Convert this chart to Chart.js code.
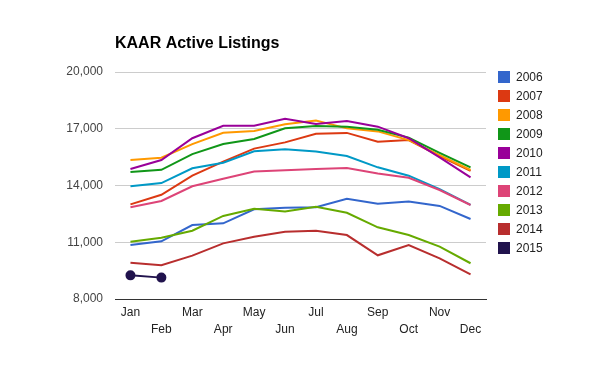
<!DOCTYPE html>
<html>
<head>
<meta charset="utf-8">
<script src="https://cdn.jsdelivr.net/npm/chart.js@4"></script>
<style>
    html, body { margin:0; padding:0; background:#fff; }
    #wrap { width:600px; height:371px; }
</style>
</head>
<body>
<div id="wrap"><canvas id="grafico" width="600" height="371"></canvas></div>
<script>
// Dados
const meses = ['Jan','Feb','Mar','Apr','May','Jun','Jul','Aug','Sep','Oct','Nov','Dec'];
const anos = ['2006','2007','2008','2009','2010','2011','2012','2013','2014','2015'];
const cores = ['#3366cc','#dc3912','#ff9900','#109618','#990099','#0099c6','#dd4477','#66aa00','#b82e2e','#21134d'];

const v2006 = [10850, 11050, 11910, 12000, 12740, 12830, 12850, 13300, 13040, 13160, 12920, 12230];
const v2007 = [13000, 13510, 14520, 15260, 15950, 16280, 16740, 16780, 16310, 16400, 15560, 14770];
const v2008 = [15350, 15470, 16190, 16790, 16880, 17240, 17430, 17020, 16860, 16400, 15610, 14820];
const v2009 = [14710, 14830, 15660, 16190, 16460, 17030, 17150, 17110, 16950, 16530, 15730, 14960];
const v2010 = [14870, 15350, 16500, 17160, 17160, 17530, 17250, 17410, 17110, 16500, 15490, 14430];
const v2011 = [13960, 14130, 14910, 15200, 15810, 15920, 15800, 15560, 14960, 14520, 13810, 12970];
const v2012 = [12850, 13180, 13960, 14360, 14740, 14800, 14870, 14920, 14640, 14410, 13760, 12970];
const v2013 = [11030, 11240, 11610, 12390, 12770, 12620, 12880, 12560, 11790, 11380, 10770, 9890];
const v2014 = [9920, 9780, 10290, 10940, 11290, 11560, 11610, 11380, 10310, 10850, 10150, 9300];
const v2015 = [9250, 9130];
const series = [v2006, v2007, v2008, v2009, v2010, v2011, v2012, v2013, v2014, v2015];

const yMin = 8000, yMax = 20000, yStep = 3000;
const titulo = 'KAAR Active Listings';
const fonte = 'Arial, "Liberation Sans", sans-serif';

// titulo e legenda desenhados à mão (posição igual ao original)
const extras = {
    id: 'extras',
    afterDraw(chart){
        const ctx = chart.ctx;
        ctx.save();
        ctx.fillStyle = '#000';
        ctx.font = 'bold 16px ' + fonte;
        ctx.textBaseline = 'alphabetic';
        ctx.textAlign = 'left';
        ctx.fillText(titulo, chart.chartArea.left, 48);

        ctx.font = '12px ' + fonte;
        ctx.textBaseline = 'middle';
        chart.data.datasets.forEach((ds, i) => {
            const y = 71 + i*19;
            ctx.fillStyle = ds.borderColor;
            ctx.fillRect(498, y, 12, 12);
            ctx.fillStyle = '#222';
            ctx.fillText(ds.label, 516, y + 6.5);
        });
        ctx.restore();
    }
};

const datasets = anos.map((ano, i) => ({
    label: ano,
    data: series[i],
    borderColor: cores[i],
    backgroundColor: cores[i],
    borderWidth: 2,
    pointRadius: ano === '2015' ? 4 : 0,
    pointHoverRadius: 4,
    tension: 0,
    fill: false,
    order: anos.length - 1 - i
}));

new Chart(document.getElementById('grafico'), {
    type: 'line',
    data: { labels: meses, datasets },
    plugins: [extras],
    options: {
        responsive: false,
        animation: false,
        layout: { padding: { top: 72, right: 114, bottom: 0, left: 0 } },
        plugins: { legend: { display: false }, title: { display: false }, tooltip: { enabled: false } },
        scales: {
            x: {
                offset: true,
                grid: { display: false, drawTicks: false },
                border: { display: true, color: '#333', width: 1 },
                ticks: {
                    autoSkip: false, maxRotation: 0, minRotation: 0,
                    padding: 6,
                    color: '#222',
                    font: { family: fonte, size: 12, lineHeight: 1.35 },
                    // rótulos alternados em duas linhas
                    callback: function(v, i){ const m = this.getLabelForValue(v); return i % 2 ? ['', m] : [m]; }
                },
                afterFit: s => { s.height = 72; }
            },
            y: {
                min: yMin, max: yMax,
                grid: { color: '#cccccc', lineWidth: 1, drawTicks: false },
                border: { display: false },
                ticks: {
                    stepSize: yStep,
                    padding: 12,
                    color: '#444',
                    font: { family: fonte, size: 12 },
                    callback: v => v.toLocaleString('en-US')
                },
                afterFit: s => { s.width = 115; }
            }
        }
    }
});
</script>
</body>
</html>
